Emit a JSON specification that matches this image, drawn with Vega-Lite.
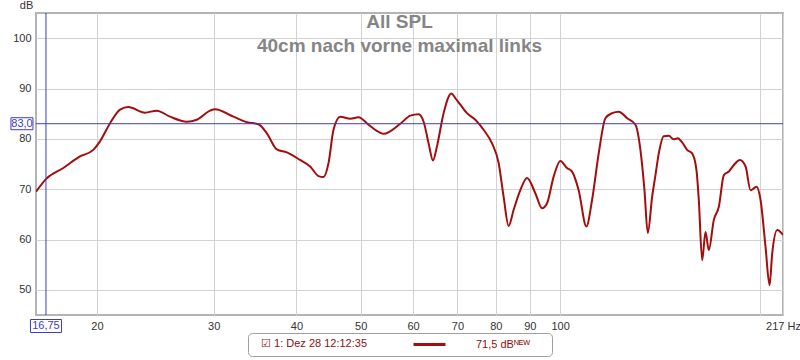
{
  "$schema": "https://vega.github.io/schema/vega-lite/v6.json",
  "width": 747,
  "height": 302,
  "autosize": {"type": "none"},
  "padding": {"left": 36, "top": 13, "right": 17, "bottom": 45},
  "background": "white",
  "config": {
    "view": {"stroke": "#b4b4b4", "strokeWidth": 2},
    "font": "Liberation Sans"
  },
  "title": {
    "text": "All SPL",
    "subtitle": "40cm nach vorne maximal links",
    "orient": "top",
    "anchor": "middle",
    "frame": "group",
    "offset": -57,
    "dx": -10,
    "font": "Liberation Sans",
    "fontSize": 19,
    "fontWeight": "bold",
    "color": "#858585",
    "subtitleFont": "Liberation Sans",
    "subtitleFontSize": 19,
    "subtitleFontWeight": "bold",
    "subtitleColor": "#858585",
    "subtitlePadding": 5
  },
  "layer": [
    {
      "data": {
        "values": [
          {"f": 16.18, "db": 69.5}, {"f": 16.75, "db": 72.0}, {"f": 17.79, "db": 74.2}, {"f": 18.85, "db": 76.5},
          {"f": 19.74, "db": 77.8}, {"f": 20.21, "db": 79.5}, {"f": 20.93, "db": 83.1}, {"f": 21.67, "db": 85.8},
          {"f": 22.3, "db": 86.3}, {"f": 23.63, "db": 85.2}, {"f": 24.62, "db": 85.6}, {"f": 25.78, "db": 84.4},
          {"f": 27.32, "db": 83.4}, {"f": 28.29, "db": 83.8}, {"f": 29.63, "db": 85.6}, {"f": 30.14, "db": 85.9},
          {"f": 32.13, "db": 84.4}, {"f": 33.67, "db": 83.3}, {"f": 35.05, "db": 82.9}, {"f": 36.09, "db": 81.1},
          {"f": 37.37, "db": 77.9}, {"f": 38.69, "db": 77.3}, {"f": 40.52, "db": 75.8}, {"f": 41.96, "db": 74.5},
          {"f": 43.19, "db": 72.6}, {"f": 43.94, "db": 72.4}, {"f": 44.72, "db": 75.2}, {"f": 45.5, "db": 81.8},
          {"f": 46.58, "db": 84.4}, {"f": 48.23, "db": 84.0}, {"f": 49.64, "db": 84.3}, {"f": 51.39, "db": 82.8},
          {"f": 53.53, "db": 81.2}, {"f": 54.15, "db": 81.0}, {"f": 57.39, "db": 83.0}, {"f": 59.42, "db": 84.6},
          {"f": 61.16, "db": 84.9}, {"f": 62.24, "db": 83.4}, {"f": 63.32, "db": 79.1}, {"f": 64.3, "db": 75.7},
          {"f": 65.19, "db": 78.5}, {"f": 66.71, "db": 85.1}, {"f": 68.52, "db": 89.0}, {"f": 69.47, "db": 88.1},
          {"f": 70.69, "db": 86.8}, {"f": 72.36, "db": 85.1}, {"f": 74.48, "db": 83.8}, {"f": 76.65, "db": 81.8},
          {"f": 78.93, "db": 79.1}, {"f": 80.77, "db": 75.2}, {"f": 82.18, "db": 68.5}, {"f": 83.63, "db": 62.7},
          {"f": 85.1, "db": 65.9}, {"f": 87.1, "db": 69.8}, {"f": 89.15, "db": 72.2}, {"f": 91.76, "db": 69.2},
          {"f": 93.93, "db": 66.2}, {"f": 95.57, "db": 67.2}, {"f": 97.79, "db": 72.5}, {"f": 100.09, "db": 75.6},
          {"f": 102.44, "db": 74.2}, {"f": 104.25, "db": 73.5}, {"f": 106.67, "db": 69.8}, {"f": 109.58, "db": 62.6},
          {"f": 111.77, "db": 67.9}, {"f": 114.37, "db": 77.1}, {"f": 117.06, "db": 84.1}, {"f": 119.82, "db": 85.1},
          {"f": 122.61, "db": 85.4}, {"f": 126.23, "db": 84.1}, {"f": 129.95, "db": 82.8}, {"f": 132.21, "db": 77.8},
          {"f": 134.08, "db": 69.8}, {"f": 135.63, "db": 61.3}, {"f": 137.71, "db": 68.5}, {"f": 139.31, "db": 72.8},
          {"f": 140.92, "db": 77.1}, {"f": 143.37, "db": 80.5}, {"f": 145.89, "db": 80.6}, {"f": 148.45, "db": 79.9},
          {"f": 150.53, "db": 80.1}, {"f": 152.84, "db": 79.3}, {"f": 155.52, "db": 77.8}, {"f": 158.25, "db": 77.1},
          {"f": 160.64, "db": 73.8}, {"f": 161.94, "db": 67.9}, {"f": 163.86, "db": 55.9}, {"f": 165.76, "db": 61.5},
          {"f": 167.68, "db": 57.9}, {"f": 170.62, "db": 63.9}, {"f": 173.62, "db": 66.5}, {"f": 176.67, "db": 72.8},
          {"f": 179.77, "db": 73.5}, {"f": 182.92, "db": 74.8}, {"f": 186.78, "db": 75.8}, {"f": 190.54, "db": 74.5},
          {"f": 193.86, "db": 69.8}, {"f": 197.94, "db": 70.5}, {"f": 200.7, "db": 67.9}, {"f": 204.2, "db": 58.6},
          {"f": 207.1, "db": 50.9}, {"f": 209.0, "db": 57.2}, {"f": 212.7, "db": 61.9}, {"f": 217.0, "db": 60.9}
        ]
      },
      "mark": {"type": "line", "interpolate": "monotone", "strokeWidth": 2, "clip": true},
      "encoding": {
        "x": {
          "field": "f",
          "type": "quantitative",
          "scale": {"type": "log", "domain": [16.18, 217], "nice": false},
          "axis": {
            "title": null,
            "values": [20, 30, 40, 50, 60, 70, 80, 90, 100, 200, 217],
            "labelExpr": "datum.value == 217 ? '217 Hz' : (datum.value == 200 ? '' : '' + datum.value)",
            "domain": false,
            "ticks": false,
            "grid": true,
            "gridColor": "#d2d2d2",
            "gridWidth": 1,
            "labelFont": "Liberation Sans",
            "labelFontSize": 11,
            "labelColor": "#333333",
            "labelPadding": 5,
            "labelOverlap": false,
            "labelFlush": false,
            "labelBound": false
          }
        },
        "y": {
          "field": "db",
          "type": "quantitative",
          "scale": {"domain": [45, 105], "nice": false, "zero": false},
          "axis": {
            "title": "dB",
            "titleAngle": 0,
            "titleX": -10,
            "titleY": -8,
            "titleAlign": "center",
            "titleBaseline": "middle",
            "titleFont": "Liberation Sans",
            "titleFontSize": 11,
            "titleFontWeight": "normal",
            "titleColor": "#333333",
            "values": [50, 60, 70, 80, 90, 100],
            "domain": false,
            "ticks": false,
            "grid": true,
            "gridColor": "#d2d2d2",
            "gridWidth": 1,
            "labelFont": "Liberation Sans",
            "labelFontSize": 11,
            "labelColor": "#333333",
            "labelPadding": 5
          }
        },
        "color": {
          "datum": "71,5 dB\u1d3a\u1d31\u1d42\u2800\u2800",
          "scale": {"range": ["#a30d0d"]},
          "legend": {
            "orient": "none",
            "legendX": 212,
            "legendY": 320,
            "direction": "horizontal",
            "title": "\u2800\u2611 1: Dez 28 12:12:35",
            "titleOrient": "left",
            "titleColor": "#8b1010",
            "titleFont": "Liberation Sans",
            "titleFontSize": 11,
            "titleFontWeight": "normal",
            "titleBaseline": "middle",
            "titlePadding": 55,
            "symbolType": "M-3.2,0H3.2",
            "symbolSize": 100,
            "symbolStrokeWidth": 3,
            "symbolStrokeColor": "#8b1010",
            "symbolFillColor": "transparent",
            "labelColor": "#8b1010",
            "labelFont": "Liberation Sans",
            "labelFontSize": 11,
            "labelOffset": 40,
            "padding": 5,
            "strokeColor": "#a0a0a0",
            "cornerRadius": 4,
            "fillColor": "white"
          }
        }
      }
    },
    {
      "data": {"values": [{"f": 16.75, "db": 83.0, "flabel": "16,75", "dblabel": "83,0"}]},
      "layer": [
        {
          "mark": {"type": "rule", "color": "#3c3cc8", "strokeWidth": 1},
          "encoding": {"y": {"field": "db", "type": "quantitative"}}
        },
        {
          "mark": {"type": "rule", "color": "#3c3cc8", "strokeWidth": 1},
          "encoding": {"x": {"field": "f", "type": "quantitative"}}
        },
        {
          "mark": {"type": "rect", "width": 31, "height": 13, "yOffset": 11, "fill": "white", "stroke": "#3c3cc8", "strokeWidth": 1},
          "encoding": {"x": {"field": "f", "type": "quantitative"}, "y": {"datum": 45}}
        },
        {
          "mark": {"type": "text", "yOffset": 11, "color": "#3c3cc8", "font": "Liberation Sans", "fontSize": 11, "baseline": "middle", "align": "center"},
          "encoding": {"x": {"field": "f", "type": "quantitative"}, "y": {"datum": 45}, "text": {"field": "flabel"}}
        },
        {
          "mark": {"type": "rect", "width": 22, "height": 12, "xOffset": -24, "fill": "white", "stroke": "#3c3cc8", "strokeWidth": 1},
          "encoding": {"x": {"field": "f", "type": "quantitative"}, "y": {"field": "db", "type": "quantitative"}}
        },
        {
          "mark": {"type": "text", "xOffset": -24, "color": "#3c3cc8", "font": "Liberation Sans", "fontSize": 11, "baseline": "middle", "align": "center"},
          "encoding": {"x": {"field": "f", "type": "quantitative"}, "y": {"field": "db", "type": "quantitative"}, "text": {"field": "dblabel"}}
        }
      ]
    }
  ]
}
